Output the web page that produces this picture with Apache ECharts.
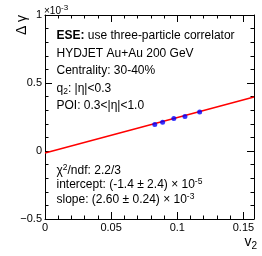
<!DOCTYPE html>
<html><head><meta charset="utf-8">
<script src="https://cdn.jsdelivr.net/npm/echarts@6/dist/echarts.min.js"></script>
<style>html,body{margin:0;padding:0;background:#fff}#c{width:262px;height:256px}</style>
</head><body><div id="c"></div>
<script>
// data
const v2Values = [0.0830, 0.0889, 0.0974, 0.1058, 0.1169];
const dGammaValues = [0.195, 0.212, 0.239, 0.254, 0.286];
const fitV2 = [0, 0.158];
const fitDGamma = [-0.014, 0.397];
const xTickValues = [0, 0.05, 0.1, 0.15];
const xTickLabels = ['0', '0.05', '0.1', '0.15'];
const yTickValues = [-0.5, 0, 0.5, 1];
const yTickLabels = ['\u22120.5', '0', '0.5', '1'];
const xRange = [0, 0.158];
const yRange = [-0.5, 1];

const FF = 'Liberation Sans';
const chart = echarts.init(document.getElementById('c'), null, {renderer: 'canvas'});

function lookup(vals, labels) {
  return function (v) {
    for (let i = 0; i < vals.length; i++) if (Math.abs(v - vals[i]) < 1e-9) return labels[i];
    return '';
  };
}
const blk = {color: '#000', width: 1};
function xAx(pos, interval, len, withLabel, withLine) {
  return {
    type: 'value', position: pos, min: xRange[0], max: xRange[1], interval: interval,
    axisLine: {show: withLine, onZero: false, lineStyle: blk},
    axisTick: {show: true, inside: true, length: len, lineStyle: blk},
    axisLabel: {show: withLabel, margin: 3, fontSize: 11, fontFamily: FF, color: '#000',
      formatter: lookup(xTickValues, xTickLabels)},
    splitLine: {show: false}
  };
}
function yAx(pos, withLabel) {
  return {
    type: 'value', position: pos, min: yRange[0], max: yRange[1], interval: 0.5,
    axisLine: {show: true, onZero: false, lineStyle: blk},
    axisTick: {show: true, inside: true, length: 7, lineStyle: blk},
    minorTick: {show: true, splitNumber: 5, length: 3.5, lineStyle: blk},
    axisLabel: {show: withLabel, margin: 3, fontSize: 11, fontFamily: FF, color: '#000',
      formatter: lookup(yTickValues, yTickLabels)},
    splitLine: {show: false}, minorSplitLine: {show: false}
  };
}

const richBase = {
  n: {fontSize: 12, lineHeight: 15, fontFamily: FF, fill: '#000'},
  b: {fontSize: 12, lineHeight: 15, fontFamily: FF, fontWeight: 'bold', fill: '#000'},
  sup: {fontSize: 8.5, lineHeight: 7, fontFamily: FF, verticalAlign: 'top', fill: '#000'},
  sub: {fontSize: 8.5, lineHeight: 7, fontFamily: FF, verticalAlign: 'bottom', fill: '#000'}
};
function txt(x, y, text) {
  return {type: 'text', x: x, y: y, silent: true,
    style: {text: text, rich: richBase, fontSize: 12, fontFamily: FF, fill: '#000', verticalAlign: 'middle', align: 'left'}};
}

chart.setOption({
  animation: false,
  backgroundColor: '#fff',
  grid: {left: 45, right: 8, top: 15, bottom: 37, containLabel: false},
  xAxis: [
    xAx('bottom', 0.05, 7, true, true),
    xAx('bottom', 0.01, 3.5, false, false),
    xAx('top', 0.05, 7, false, true),
    xAx('top', 0.01, 3.5, false, false)
  ],
  yAxis: [yAx('left', true), yAx('right', false)],
  series: [
    {type: 'line', xAxisIndex: 0, yAxisIndex: 0, showSymbol: false, symbol: 'none',
      data: fitV2.map((x, i) => [x, fitDGamma[i]]),
      lineStyle: {color: '#ff0000', width: 1.5}, clip: true, z: 2},
    {type: 'scatter', xAxisIndex: 0, yAxisIndex: 0, symbol: 'circle', symbolSize: 5,
      data: v2Values.map((x, i) => [x, dGammaValues[i]]),
      itemStyle: {color: '#0000ff'}, z: 3}
  ],
  graphic: [
    txt(56.5, 36, '{b|ESE:}{n| use three-particle correlator}'),
    txt(56.5, 53.5, '{n|HYDJET Au+Au 200 GeV}'),
    txt(56.5, 71, '{n|Centrality: 30-40%}'),
    txt(56.5, 88.5, '{n|q}{sub|2}{n|: |η|<0.3}'),
    txt(56.5, 106, '{n|POI: 0.3<|η|<1.0}'),
    txt(56.5, 170.5, '{n|χ}{sup|2}{n|/ndf: 2.2/3}'),
    txt(56.5, 185, '{n|intercept: (-1.4 ± 2.4) × 10}{sup|-5}'),
    txt(56.5, 199.5, '{n|slope: (2.60 ± 0.24) × 10}{sup|-3}'),
    {type: 'text', x: 44, y: 11.5, silent: true,
      style: {text: '{n|×10}{sup|-3}', verticalAlign: 'middle', align: 'left',
        rich: {n: {fontSize: 10, lineHeight: 16, fontFamily: FF, fill: '#000'},
               sup: {fontSize: 8, lineHeight: 6, fontFamily: FF, verticalAlign: 'top', fill: '#000'}}}},
    {type: 'text', x: 257, y: 242, silent: true,
      style: {text: '{n|v}{sub|2}', verticalAlign: 'middle', align: 'right',
        rich: {n: {fontSize: 14, lineHeight: 18, fontFamily: FF, fill: '#000'},
               sub: {fontSize: 10, lineHeight: 6, fontFamily: FF, verticalAlign: 'bottom', fill: '#000'}}}},
    {type: 'text', x: 22, y: 25, rotation: Math.PI / 2, silent: true,
      style: {text: 'Δ γ', fontSize: 14, fontFamily: FF, fill: '#000', align: 'center', verticalAlign: 'middle'}}
  ]
});
</script></body></html>
